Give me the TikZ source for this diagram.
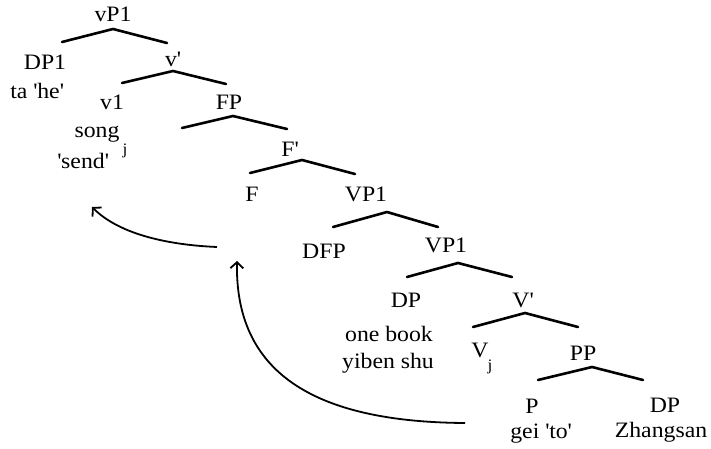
\documentclass[tikz,border=0pt]{standalone}
\usepackage{fontspec}
\setmainfont{Liberation Serif}[FakeStretch=1.08]
\usetikzlibrary{arrows.meta}
\newcommand\sq{\textquotesingle}
\begin{document}
\begin{tikzpicture}[x=1pt,y=-1pt,
  lab/.style={anchor=base,inner sep=0pt,font=\fontsize{22}{26}\selectfont},
  sub/.style={anchor=base,inner sep=0pt,font=\fontsize{16}{18}\selectfont},
  branch/.style={line width=2.6pt,line cap=round,line join=round},
  move/.style={line width=1.8pt,-{Straight Barb[length=6pt,width=13pt,line width=1.8pt]}}]
\useasboundingbox (0,0) rectangle (711,449);
% labels
\node[lab] (vP) at (113,22) {vP1};
\node[lab] (DP1) at (45,70) {DP1};
\node[lab] (ta) at (37,99) {ta \sq he\sq};
\node[lab] (vbar) at (173,67) {v\sq};
\node[lab] (v1) at (112,110) {v1};
\node[lab] (song) at (97,138) {song};
\node[sub] (jone) at (125,155) {j};
\node[lab] (send) at (83,168) {\sq send\sq};
\node[lab] (FP) at (229,110) {FP};
\node[lab] (Fbar) at (290,157) {F\sq};
\node[lab] (F) at (252,201) {F};
\node[lab] (VPa) at (366,201) {VP1};
\node[lab] (DFP) at (324,258) {DFP};
\node[lab] (VPb) at (446,252) {VP1};
\node[lab] (DPa) at (406,307) {DP};
\node[lab] (onebook) at (389,341) {one book};
\node[lab] (yiben) at (388,368) {yiben shu};
\node[lab] (Vbar) at (523,307) {V\sq};
\node[lab] (V) at (480,357) {V};
\node[sub] (jtwo) at (490,370) {j};
\node[lab] (PP) at (583,360) {PP};
\node[lab] (P) at (532,413) {P};
\node[lab] (DPb) at (665,412) {DP};
\node[lab] (gei) at (541,438) {gei \sq to\sq};
\node[lab] (zs) at (661,437) {Zhangsan};
% branch points
\coordinate (b1l) at (62,42);  \coordinate (b1t) at (113,29);  \coordinate (b1r) at (167,43);
\coordinate (b2l) at (122,83); \coordinate (b2t) at (173,71);  \coordinate (b2r) at (226,84);
\coordinate (b3l) at (182,128);\coordinate (b3t) at (233,116); \coordinate (b3r) at (287,129);
\coordinate (b4l) at (250,173);\coordinate (b4t) at (302,160); \coordinate (b4r) at (355,174);
\coordinate (b5l) at (333,227);\coordinate (b5t) at (387,212); \coordinate (b5r) at (438,227);
\coordinate (b6l) at (407,277);\coordinate (b6t) at (458,263); \coordinate (b6r) at (512,277);
\coordinate (b7l) at (473,327);\coordinate (b7t) at (525,313); \coordinate (b7r) at (578,327);
\coordinate (b8l) at (538,380);\coordinate (b8t) at (592,367); \coordinate (b8r) at (643,380);
\foreach \i in {1,...,8}{\draw[branch] (b\i l) -- (b\i t) -- (b\i r);}
% movement arrows
\coordinate (m1s) at (217,247); \coordinate (m1e) at (92,207);
\coordinate (m2s) at (465,423); \coordinate (m2e) at (237,261);
\draw[move] (m1s) .. controls (170,245) and (120,235) .. (m1e);
\draw[move] (m2s) .. controls (310,422) and (235,370) .. (m2e);
\end{tikzpicture}
\end{document}
